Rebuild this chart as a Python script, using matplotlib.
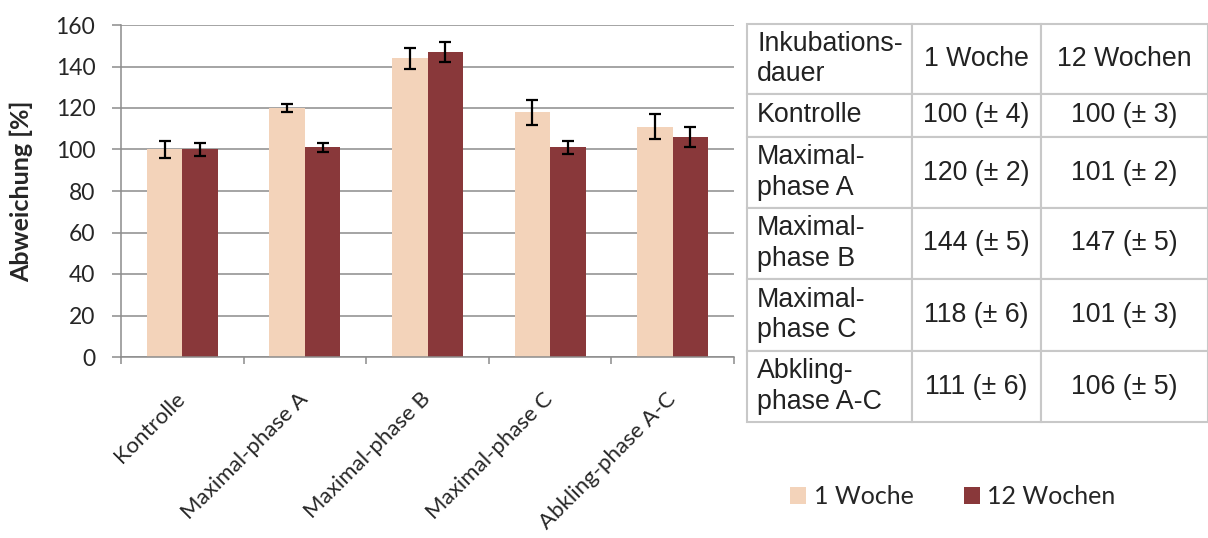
import numpy as np
import matplotlib.pyplot as plt
from matplotlib.ticker import FixedLocator

categories = ["Kontrolle", "Maximal-phase A", "Maximal-phase B", "Maximal-phase C", "Abkling-phase A-C"]
woche1 = [100, 120, 144, 118, 111]
woche1_err = [4, 2, 5, 6, 6]
woche12 = [100, 101, 147, 101, 106]
woche12_err = [3, 2, 5, 3, 5]
series_labels = ["1 Woche", "12 Wochen"]

table_rows = ["Inkubations-\ndauer", "Kontrolle", "Maximal-\nphase A", "Maximal-\nphase B",
              "Maximal-\nphase C", "Abkling-\nphase A-C"]

W, H = 1208, 538
fig = plt.figure(figsize=(W / 100, H / 100), dpi=100)

c1 = "#F3D3BA"
c2 = "#89383A"
grid_c = "#8C8C8C"
txt_c = "#262626"

ax = fig.add_axes([121 / W, 1 - 357 / H, (734 - 121) / W, (357 - 25) / H])
x = np.arange(len(categories))
bw = 0.29
ekw = dict(elinewidth=1.6, capthick=1.6, capsize=4.5, ecolor="black")
b1 = ax.bar(x - bw / 2, woche1, bw, yerr=woche1_err, color=c1, error_kw=ekw, label=series_labels[0])
b2 = ax.bar(x + bw / 2, woche12, bw, yerr=woche12_err, color=c2, error_kw=ekw, label=series_labels[1])

ax.set_xlim(-0.5, len(categories) - 0.5)
ax.set_ylim(0, 160)
ax.set_yticks(range(0, 161, 20))
ax.set_axisbelow(True)
ax.yaxis.grid(True, color=grid_c, lw=1.1)
for s in ["top", "right"]:
    ax.spines[s].set_visible(False)
for s in ["left", "bottom"]:
    ax.spines[s].set_color(grid_c)
    ax.spines[s].set_linewidth(1.1)

ax.set_xticks(x)
ax.set_xticklabels(categories, rotation=45, ha="right", va="center", rotation_mode="anchor",
                   fontsize=16, family="Lato", color=txt_c)
ax.xaxis.set_minor_locator(FixedLocator(np.arange(-0.5, len(categories), 1.0)))
ax.tick_params(axis="x", which="major", length=0, pad=28)
ax.tick_params(axis="x", which="minor", length=5, width=1.1, color=grid_c, direction="out")
ax.tick_params(axis="y", length=6.5, width=1.1, color=grid_c, pad=12, labelsize=16.5, labelcolor=txt_c)
for lab in ax.get_yticklabels():
    lab.set_family("Lato")
ax.set_ylabel("Abweichung [%]", family="Lato", fontweight="bold", fontsize=18, color=txt_c)
ax.yaxis.set_label_coords(-88 / (734 - 121), 0.5)

fig.legend([b1, b2], series_labels, loc="center", bbox_to_anchor=(953 / W, 1 - 497 / H),
           ncol=2, frameon=False, handlelength=0.64, handleheight=0.64, handletextpad=0.3,
           columnspacing=2.0, prop=dict(family="Lato", size=18), labelcolor=txt_c)

# table on the right
tax = fig.add_axes([747 / W, 1 - 422 / H, (W - 747) / W, (422 - 24) / H])
tax.axis("off")
cell_text = [[table_rows[0]] + series_labels]
for name, a, ea, b, eb in zip(table_rows[1:], woche1, woche1_err, woche12, woche12_err):
    cell_text.append([name, f"{a} (± {ea})", f"{b} (± {eb})"])
tbl = tax.table(cellText=cell_text, bbox=[0, 0, 1, 1], cellLoc="center")
tbl.auto_set_font_size(False)
row_h = [70, 43, 71, 71, 72, 71]
col_w = [165, 129, 167]
for (r, c), cell in tbl.get_celld().items():
    cell.set_height(row_h[r])
    cell.set_width(col_w[c])
    cell.set_edgecolor("#C8C8C8")
    cell.set_linewidth(1.5)
    t = cell.get_text()
    t.set_fontsize(19.3)
    t.set_family("Liberation Sans")
    t.set_color("#222222")
    t.set_linespacing(1.22)
    if c == 0:
        t.set_ha("left")
        cell.PAD = 10 / 165
        cell._loc = "left"

fig.savefig("out.png", dpi=100)
